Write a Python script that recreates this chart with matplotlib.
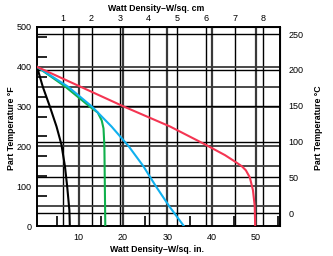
import matplotlib
matplotlib.use("Agg")
import matplotlib.pyplot as plt
import numpy as np

plt.rcParams['font.family'] = ['Liberation Sans', 'DejaVu Sans']

# curves: (watt density W/sq.in., part temperature F)
black_w = [0.6, 1.9, 3.5, 5.0, 6.1, 6.9, 7.4, 7.9, 8.0]
black_f = [400, 350, 300, 250, 205, 150, 100, 40, 0]

green_w = [0.6, 7.0, 12.5, 14.3, 15.2, 15.6, 15.8, 16.0]
green_f = [400, 350, 300, 285, 265, 245, 200, 0]

cyan_w = [0.6, 7.6, 13.0, 17.4, 21.3, 24.6, 27.4, 30.4, 33.7]
cyan_f = [400, 350, 300, 250, 200, 150, 100, 50, 0]

red_w = [0.6, 20.2, 30.6, 38.5, 43.0, 45.5, 46.8, 47.7, 48.6, 49.3, 49.7, 49.8]
red_f = [400, 300, 250, 205, 178, 160, 150, 140, 122, 90, 50, 0]

# axis ticks
in_ticks = [10, 20, 30, 40, 50]
in_minor = [5, 15, 25, 35, 45, 55]
cm_ticks = [1, 2, 3, 4, 5, 6, 7, 8]
f_ticks = [0, 100, 200, 300, 400, 500]
f_lines = [50, 100, 150, 200, 300, 350, 400]
f_minor = [75, 125, 175, 225, 275, 325, 375, 425, 475]
c_ticks = [0, 50, 100, 150, 200, 250]

SQCM = 6.4516


def f_to_c(f):
    return (np.asarray(f) - 32) * 5 / 9


def c_to_f(c):
    return np.asarray(c) * 9 / 5 + 32


fig = plt.figure(figsize=(3.33, 2.56), dpi=100)
ax = fig.add_axes([37 / 333, 30 / 256, 243 / 333, 199 / 256])
ax.set_xlim(0.6, 55.4)
ax.set_ylim(0, 500)

# grid
for w in in_ticks:
    ax.axvline(w, color='#3a3a3a', lw=1.6, zorder=1)
for w in cm_ticks:
    ax.axvline(w * SQCM, color='black', lw=1.0, zorder=1)
for f in f_lines:
    ax.axhline(f, color='#3a3a3a', lw=1.3, zorder=1)
for c in c_ticks:
    ax.axhline(c_to_f(c), color='black', lw=1.0, zorder=1)

# short inner ticks
ax.set_yticks(f_minor, minor=True)
ax.set_xticks(in_minor, minor=True)
ax.tick_params(which='minor', direction='in', length=7, width=1.2, color='black')
ax.tick_params(axis='x', which='minor', top=False)
ax.tick_params(axis='y', which='minor', right=False)

ax.plot(black_w, black_f, color='black', lw=1.5, zorder=3)
ax.plot(green_w, green_f, color='#10b04c', lw=1.5, zorder=3)
ax.plot(cyan_w, cyan_f, color='#10b0ee', lw=1.5, zorder=3)
ax.plot(red_w, red_f, color='#f43552', lw=1.5, zorder=3)

ax.set_xticks(in_ticks)
ax.set_yticks(f_ticks)
ax.tick_params(which='major', length=0, labelsize=6.5, pad=5)
ax.tick_params(axis='y', which='major', pad=4)
for s in ax.spines.values():
    s.set_linewidth(1.4)

top = ax.secondary_xaxis('top', functions=(lambda x: x / SQCM, lambda x: x * SQCM))
top.set_xticks(cm_ticks)
top.tick_params(length=0, labelsize=6.5, pad=3)

right = ax.secondary_yaxis('right', functions=(f_to_c, c_to_f))
right.set_yticks(c_ticks)
right.tick_params(length=0, labelsize=6.5, pad=6)

fig.text(0.47, 0.027, 'Watt Density\u2013W/sq. in.', ha='center', va='center',
         fontsize=6.3, fontweight='bold')
fig.text(0.47, 0.968, 'Watt Density\u2013W/sq. cm', ha='center', va='center',
         fontsize=6.3, fontweight='bold')
fig.text(0.036, 0.5, 'Part Temperature \u00b0F', ha='center', va='center',
         rotation=90, fontsize=6.3, fontweight='bold')
fig.text(0.955, 0.5, 'Part Temperature \u00b0C', ha='center', va='center',
         rotation=90, fontsize=6.3, fontweight='bold')

fig.savefig('out.png', dpi=100)
